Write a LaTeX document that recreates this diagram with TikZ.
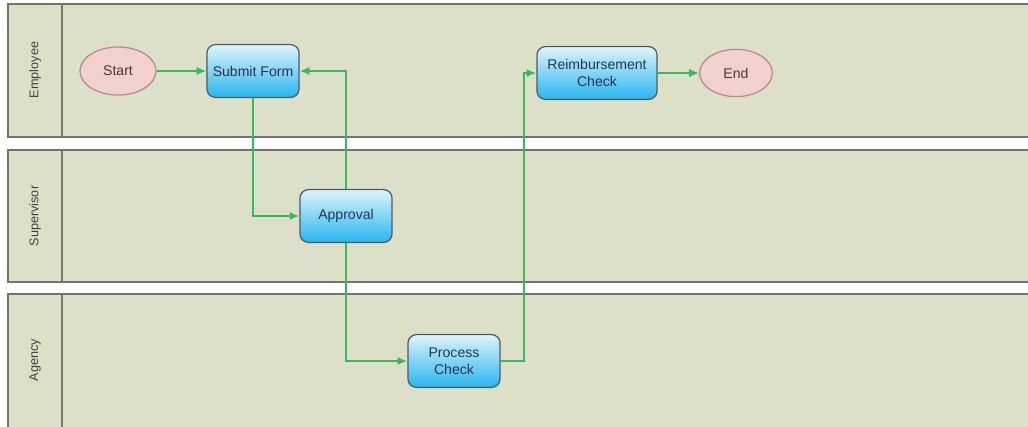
\documentclass[tikz,border=0pt]{standalone}
\usepackage{fontspec}
\setsansfont{Liberation Sans}
\usetikzlibrary{shapes,arrows,arrows.meta,positioning}
\definecolor{lanefill}{RGB}{221,224,201}
\definecolor{laneline}{RGB}{112,118,104}
\definecolor{tasktop}{RGB}{222,244,250}
\definecolor{taskbottom}{RGB}{38,182,238}
\definecolor{taskline}{RGB}{78,92,98}
\definecolor{tasktext}{RGB}{38,52,82}
\definecolor{termfill}{RGB}{242,208,206}
\definecolor{termline}{RGB}{186,136,134}
\definecolor{termtext}{RGB}{84,50,52}
\definecolor{flowgreen}{RGB}{58,182,92}

\begin{document}
\begin{tikzpicture}[x=0.025cm, y=-0.025cm,
  font=\sffamily\fontsize{10}{12}\selectfont,
  lane/.style={draw=laneline, fill=lanefill, line width=1.6pt},
  lanetitle/.style={rotate=90, text=black!75, font=\sffamily\fontsize{9}{10}\selectfont},
  task/.style={rectangle, rounded corners=6pt, draw=taskline, line width=0.9pt, top color=tasktop, bottom color=taskbottom, text=tasktext, align=center, inner sep=1pt, minimum width=2.3cm, minimum height=1.32cm},
  terminal/.style={ellipse, draw=termline, line width=0.9pt, fill=termfill, text=termtext, minimum width=1.9cm, minimum height=1.2cm},
  flow/.style={-{Latex[length=7pt,width=6pt]}, draw=flowgreen, line width=1.4pt}]

\useasboundingbox (0,0) rectangle (1028,427);
\fill[white] (0,0) rectangle (1028,427);

% swim lanes
\draw[lane] (8,4) rectangle (1040,137);
\draw[lane] (8,150) rectangle (1040,282);
\draw[lane] (8,294) rectangle (1040,440);
\draw[laneline, line width=1.6pt] (62,4) -- (62,137);
\draw[laneline, line width=1.6pt] (62,150) -- (62,282);
\draw[laneline, line width=1.6pt] (62,294) -- (62,440);
\node[lanetitle] (employee) at (35,70) {Employee};
\node[lanetitle] (supervisor) at (35,216) {Supervisor};
\node[lanetitle] (agency) at (35,360) {Agency};

% steps
\node[terminal] (start) at (118,71) {Start};
\node[task] (submit) at (253,71) {Submit Form};
\node[task] (approval) at (346,216) {Approval};
\node[task] (process) at (454,361) {Process\\Check};
\node[task, minimum width=3cm] (reimb) at (597,73) {Reimbursement\\Check};
\node[terminal, minimum width=1.82cm, minimum height=1.18cm] (end) at (736,73) {End};
\coordinate (turn) at (524,361);
\coordinate (rise) at (524,73);

% flow
\draw[flow] (start) -- (submit);
\draw[flow] (submit.south) |- (approval.west);
\draw[flow] (approval.north) |- (submit.east);
\draw[flow] (approval.south) |- (process.west);
\draw[flow] (process.east) -- (turn) -- (rise) -- (reimb.west);
\draw[flow] (reimb) -- (end);

\end{tikzpicture}
\end{document}
